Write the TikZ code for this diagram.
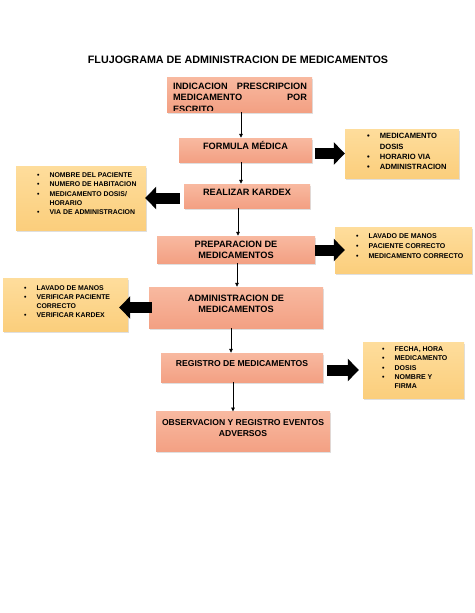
\documentclass[tikz,border=0pt]{standalone}
\usepackage{fontspec}
\setmainfont{Liberation Sans}
\usetikzlibrary{arrows.meta,shadows}
\definecolor{salmonT}{HTML}{F8B9A0}
\definecolor{salmonB}{HTML}{F3A083}
\definecolor{yellowT}{HTML}{FEDD9C}
\definecolor{yellowB}{HTML}{FBCE7C}
\tikzset{
  mainbox/.style={rectangle, draw=none, top color=salmonT, bottom color=salmonB,
    drop shadow={shadow xshift=1.2pt, shadow yshift=-1.5pt, opacity=0.25},
    font=\fontsize{9.2}{10.8}\selectfont\bfseries, inner sep=0pt},
  smallfont/.style={font=\fontsize{8.6}{11.2}\selectfont\bfseries},
  sidebox/.style={rectangle, draw=none, top color=yellowT, bottom color=yellowB,
    drop shadow={shadow xshift=1.2pt, shadow yshift=-1.5pt, opacity=0.25}, inner sep=0pt},
  listtext/.style={anchor=west, inner sep=0pt, align=left},
  flow/.style={-{Triangle[length=4pt,width=3.6pt]}, line width=0.75pt},
  bigarrow/.style={line width=11pt, -{Triangle[length=11pt,width=22pt]}},
  titletext/.style={font=\fontsize{10.75}{12}\selectfont\bfseries, inner sep=0pt}
}
\newcommand{\blist}[3]{{\fontsize{#1}{#2}\selectfont\bfseries
  \begin{tabular}{@{}l@{\hspace{10pt}}l@{}}#3\end{tabular}}}
\newcommand{\mtext}[1]{\raisebox{3pt}[\height][\depth]{\begin{tabular}{@{}c@{}}#1\end{tabular}}}
\begin{document}
\begin{tikzpicture}[x=1pt,y=-1pt]
\useasboundingbox (0,0) rectangle (474,613);
\fill[white] (0,0) rectangle (474,613);

\node[titletext] (title) at (238,60) {FLUJOGRAMA DE ADMINISTRACION DE MEDICAMENTOS};

% main flow boxes
\node[mainbox, minimum width=145pt, minimum height=35pt] (b1) at (239.5,94.5) {};
\begin{scope}
  \clip (b1.south west) ++(0,-1.8) rectangle (b1.north east);
  \node[inner sep=0pt, font=\fontsize{9.2}{11.6}\selectfont\bfseries, anchor=north, align=left] (b1t) at (240,82.6)
    {\makebox[134pt][s]{INDICACION\hfill PRESCRIPCION}\\
     \makebox[134pt][s]{MEDICAMENTO\hfill POR}\\
     \makebox[134pt][l]{ESCRITO}};
\end{scope}
\node[mainbox, minimum width=133pt, minimum height=24pt] (b2) at (245.5,150) {\mtext{FORMULA MÉDICA}};
\node[mainbox, minimum width=126pt, minimum height=24pt] (b3) at (247,196) {\mtext{REALIZAR KARDEX}};
\node[mainbox, minimum width=158pt, minimum height=27pt] (b4) at (236,249.5) {\raisebox{-1pt}[\height][\depth]{\begin{tabular}{@{}c@{}}PREPARACION DE\\MEDICAMENTOS\end{tabular}}};
\node[mainbox, minimum width=174pt, minimum height=41pt] (b5) at (236,307.5) {\mtext{ADMINISTRACION DE\\MEDICAMENTOS}};
\node[mainbox, smallfont, minimum width=162pt, minimum height=29pt] (b6) at (242,367.5) {\mtext{REGISTRO DE MEDICAMENTOS}};
\node[mainbox, smallfont, minimum width=174pt, minimum height=40pt] (b7) at (243,431.7) {\mtext{OBSERVACION Y REGISTRO EVENTOS\\ADVERSOS}};

% side boxes
\node[sidebox, minimum width=114pt, minimum height=49pt] (r1) at (402,153.5) {};
\node[sidebox, minimum width=130pt, minimum height=64pt] (l1) at (81,198) {};
\node[sidebox, minimum width=137pt, minimum height=46pt] (r2) at (403.5,250) {};
\node[sidebox, minimum width=125pt, minimum height=53pt] (l2) at (65.5,304.5) {};
\node[sidebox, minimum width=101pt, minimum height=56pt] (r3) at (413.5,370) {};

\node[listtext] (r1t) at (367,152.2) {\blist{7.6}{10.3}{•&MEDICAMENTO\\ &DOSIS\\ •&HORARIO VIA\\ •&ADMINISTRACION}};
\node[listtext] (l1t) at (37,194.3) {\blist{6.9}{9.2}{•&NOMBRE DEL PACIENTE\\ •&NUMERO DE HABITACION\\ •&MEDICAMENTO DOSIS/\\ &HORARIO\\ •&VIA DE ADMINISTRACION}};
\node[listtext] (r2t) at (356,246) {\blist{7}{10}{•&LAVADO DE MANOS\\ •&PACIENTE CORRECTO\\ •&MEDICAMENTO CORRECTO}};
\node[listtext] (l2t) at (24,302.3) {\blist{6.9}{8.9}{•&LAVADO DE MANOS\\ •&VERIFICAR PACIENTE\\ &CORRECTO\\ •&VERIFICAR KARDEX}};
\node[listtext] (r3t) at (382,368.3) {\blist{7}{9.2}{•&FECHA, HORA\\ •&MEDICAMENTO\\ •&DOSIS\\ •&NOMBRE Y\\ &FIRMA}};

% thin flow arrows
\draw[flow] ([xshift=1.5pt]b1.south) -- ([xshift=1.5pt]b1.south |- b2.north);
\draw[flow] ([xshift=-4.5pt]b2.south) -- ([xshift=-4.5pt]b2.south |- b3.north);
\draw[flow] ([xshift=-9pt]b3.south) -- ([xshift=-9pt]b3.south |- b4.north);
\draw[flow] ([xshift=1pt]b4.south) -- ([xshift=1pt]b4.south |- b5.north);
\draw[flow] ([xshift=-5pt]b5.south) -- ([xshift=-5pt]b5.south |- b6.north);
\draw[flow] ([xshift=-9pt]b6.south) -- ([xshift=-9pt]b6.south |- b7.north);

% block arrows
\draw[bigarrow] ([xshift=3pt]b2.east |- r1.west) -- (r1.west);
\draw[bigarrow] ([xshift=-4pt]b3.west |- l1.east) -- ([xshift=-1pt]l1.east);
\draw[bigarrow] (b4.east |- r2.west) -- ([xshift=10pt]r2.west);
\draw[bigarrow] ([xshift=3pt]b5.west) -- ([xshift=-9pt]l2.east |- b5.west);
\draw[bigarrow] ([xshift=4pt]b6.east |- r3.west) -- ([xshift=-4pt]r3.west);
\end{tikzpicture}
\end{document}
